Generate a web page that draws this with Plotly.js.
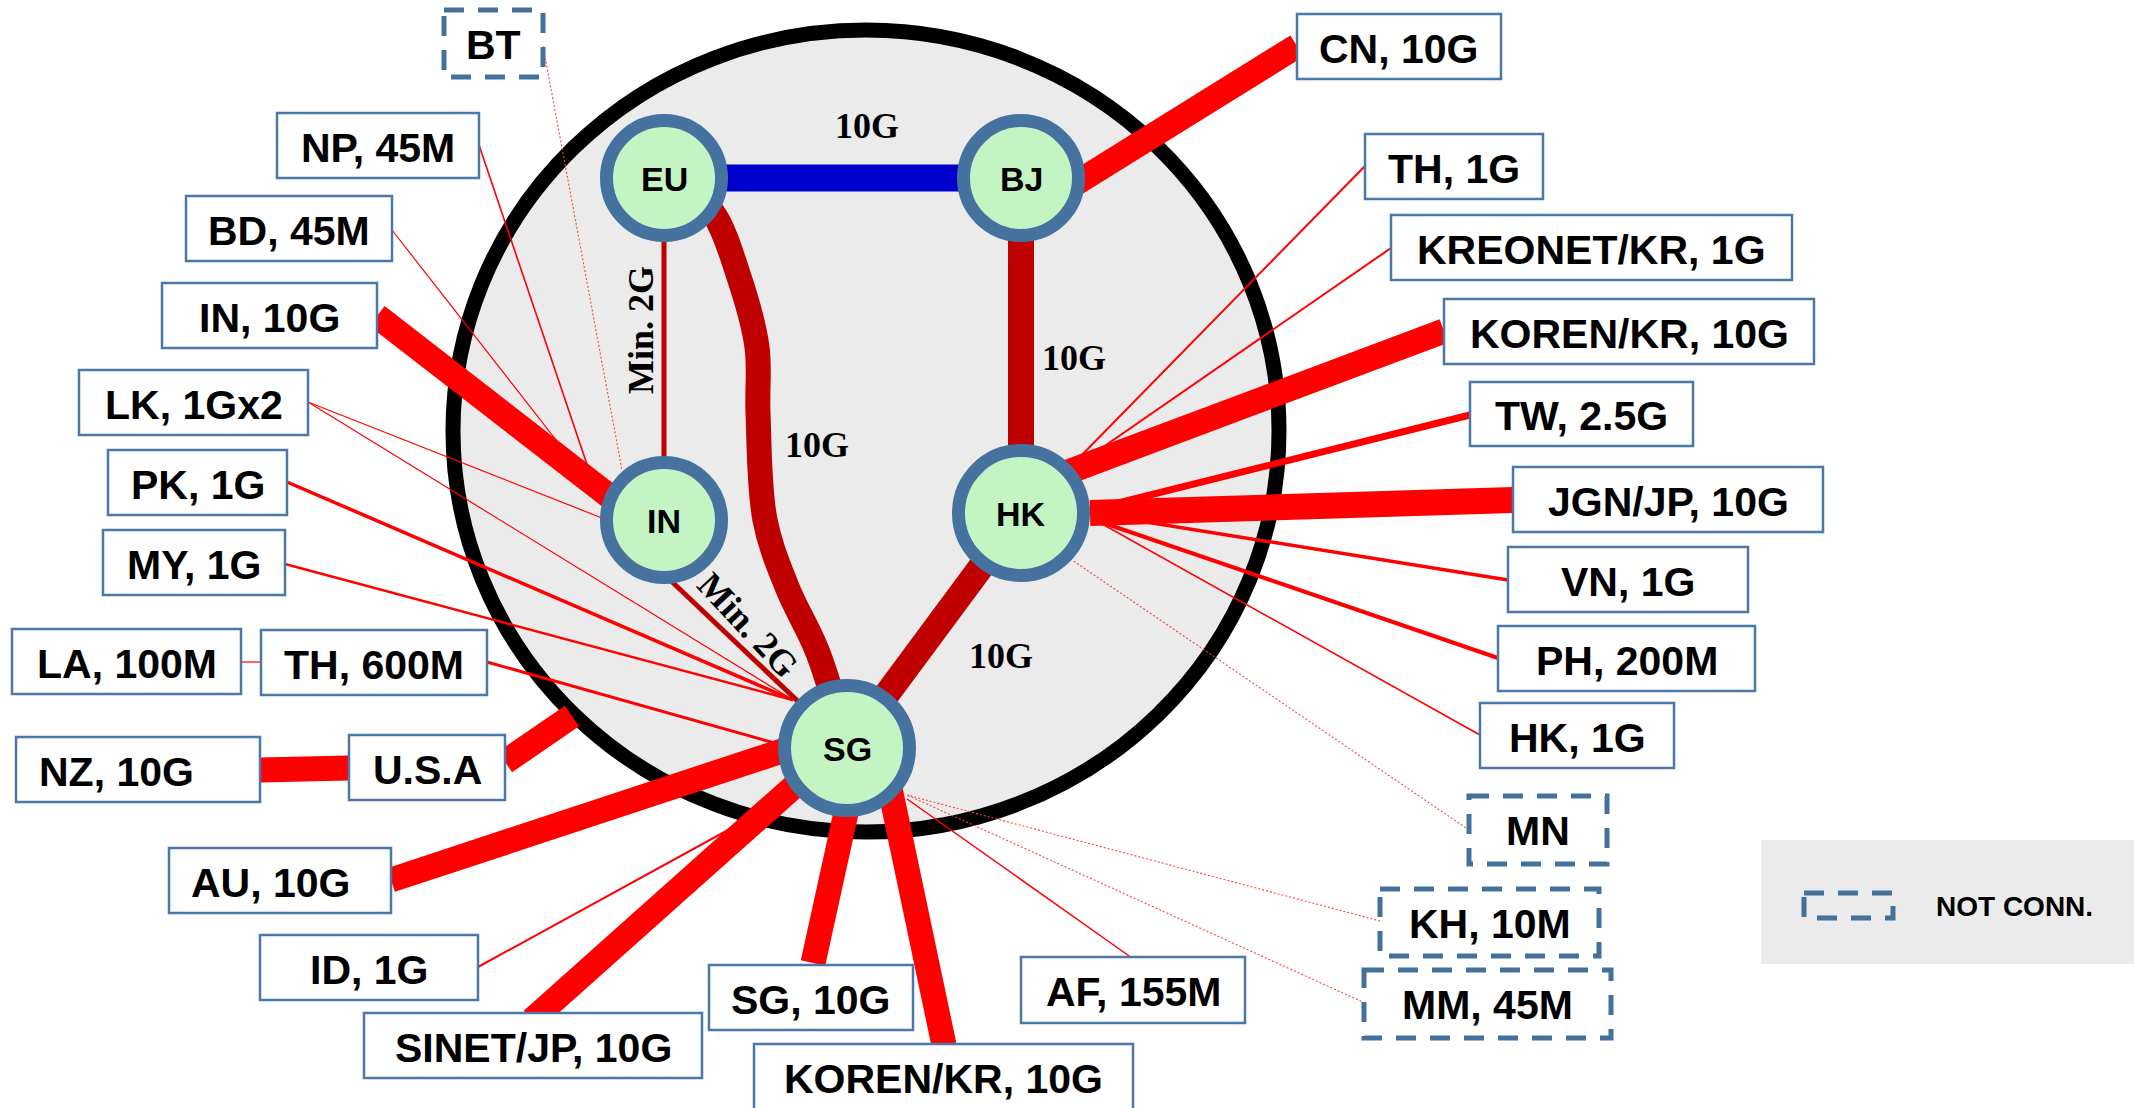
<!DOCTYPE html>
<html>
<head>
<meta charset="utf-8">
<script src="https://cdn.plot.ly/plotly-3.0.1.min.js"></script>
<style>html,body{margin:0;padding:0;background:#fff;}#chart{width:2134px;height:1108px;}</style>
</head>
<body>
<div id="chart"></div>
<script>
// ---------- DATA ----------
// Core exchange nodes
const nodeNames = ['EU', 'BJ', 'IN', 'HK', 'SG'];
const nodeX = [664, 1021, 664, 1021, 847];
const nodeY = [178, 178, 520, 513, 748];
const nodeR = [64, 64, 64, 69, 69];

// Core (node to node) links
const coreFrom = ['EU', 'BJ', 'EU', 'HK', 'IN'];
const coreTo = ['BJ', 'HK', 'IN', 'SG', 'SG'];
const coreCap = ['10G', '10G', 'Min. 2G', '10G', 'Min. 2G'];
// EU - SG 10G link follows a curved route
const curveX = [690, 713, 740, 757, 758, 765, 787, 818, 847];
const curveY = [195, 213, 280, 347, 413, 520, 587, 653, 748];
const curveCap = '10G';

// Peer boxes
const boxLabels = ['BT', 'NP, 45M', 'BD, 45M', 'IN, 10G', 'LK, 1Gx2', 'PK, 1G', 'MY, 1G', 'LA, 100M', 'TH, 600M',
  'NZ, 10G', 'U.S.A', 'AU, 10G', 'ID, 1G', 'SINET/JP, 10G', 'SG, 10G', 'KOREN/KR, 10G', 'AF, 155M',
  'CN, 10G', 'TH, 1G', 'KREONET/KR, 1G', 'KOREN/KR, 10G', 'TW, 2.5G', 'JGN/JP, 10G', 'VN, 1G', 'PH, 200M',
  'HK, 1G', 'MN', 'KH, 10M', 'MM, 45M'];
const boxConnected = [false, true, true, true, true, true, true, true, true,
  true, true, true, true, true, true, true, true,
  true, true, true, true, true, true, true, true,
  true, false, false, false];
const boxLeft = [444, 277, 186, 162, 79, 108, 103, 12, 261, 16, 349, 169, 260, 364, 709, 754, 1021,
  1297, 1365, 1391, 1444, 1470, 1513, 1508, 1498, 1480, 1469, 1380, 1364];
const boxTop = [10, 113, 196, 283, 370, 450, 530, 629, 630, 737, 735, 848, 935, 1013, 965, 1044, 957,
  14, 134, 215, 299, 382, 467, 547, 626, 703, 796, 889, 970];
const boxRight = [543, 479, 392, 377, 308, 287, 285, 241, 487, 260, 505, 391, 478, 702, 913, 1133, 1245,
  1501, 1543, 1792, 1814, 1693, 1823, 1748, 1755, 1674, 1607, 1599, 1611];
const boxBottom = [77, 178, 261, 348, 435, 515, 595, 694, 695, 802, 800, 913, 1000, 1078, 1030, 1118, 1023,
  79, 199, 280, 364, 446, 532, 612, 691, 768, 864, 956, 1038];

// Peer links (box edge -> node)
const linkCap = ['none', '45M', '45M', '10G', '1G', '1G', '1G', '1G', '100M', '600M', '10G', '10G', '10G', '1G', '10G',
  '10G', '10G', '155M', 'none', 'none', '10G', '1G', '1G', '10G', '2.5G', '10G', '1G', '200M', '1G', 'none'];
const linkX0 = [543, 479, 392, 377, 308, 308, 287, 285, 241, 487, 260, 505, 391, 478, 532,
  813, 944, 1132, 1380, 1365, 1297, 1365, 1391, 1444, 1470, 1513, 1508, 1498, 1480, 1469];
const linkY0 = [46, 145, 230, 316, 402, 402, 482, 564, 662, 662, 770, 762, 880, 967, 1020,
  963, 1045, 958, 921, 1003, 46, 166, 248, 331, 415, 500, 580, 658, 735, 830];
const linkX1 = [622, 598, 603, 640, 607, 793, 793, 793, 261, 778, 349, 572, 800, 790, 800,
  851, 884, 907, 907, 907, 1070, 1075, 1080, 1060, 1090, 1090, 1090, 1095, 1095, 1072];
const linkY1 = [470, 497, 500, 520, 520, 700, 700, 700, 662, 744, 768, 716, 745, 796, 781,
  790, 760, 799, 795, 795, 187, 462, 463, 475, 510, 513, 513, 520, 520, 560];

const legendText = 'NOT CONN.';

// ---------- STYLES ----------
const linkWidthStyle = [1.1, 1.6, 1.2, 25, 1.2, 1.2, 3.5, 2.5, 1.2, 3, 25, 25, 25, 2, 25,
  25, 25, 1.5, 1.1, 1.1, 25, 2, 2, 25, 7, 26, 3.5, 4, 1.5, 1.1];
const RED = '#ff0000', DARKRED = '#c00000', BLUE = '#0000cc';
const BOXLINE = '#4a78aa', DASHLINE = '#44719c';
const NODEFILL = '#c4f4c4', NODELINE = '#45729e';
const SANS = 'Liberation Sans, Arial, sans-serif';
const SERIF = 'Liberation Serif, Times New Roman, serif';
const labelShift = {'NZ, 10G': -22, 'AU, 10G': -9};
const coreLabelPos = [[867, 126, 0], [1074, 358, 0], [641, 330, -90], [1001, 656, 0], [748, 625, 47]];
const curveLabelPos = [817, 445];

// ---------- BUILD ----------
const traces = [];
const shapes = [];
const annotations = [];
const idx = n => nodeNames.indexOf(n);

// big ring
shapes.push({type: 'circle', xref: 'x', yref: 'y', x0: 453, x1: 1279, y0: 30, y1: 832,
  fillcolor: '#ebebeb', line: {color: '#000', width: 15}, layer: 'below'});

// peer links
for (let i = 0; i < linkCap.length; i++) {
  const notConn = linkCap[i] === 'none';
  traces.push({type: 'scatter', mode: 'lines', x: [linkX0[i], linkX1[i]], y: [linkY0[i], linkY1[i]],
    hoverinfo: 'skip',
    line: {color: notConn ? '#ff4040' : RED, width: linkWidthStyle[i], dash: notConn ? '2px,2px' : 'solid'}});
}
// core links
for (let i = 0; i < coreFrom.length; i++) {
  const a = idx(coreFrom[i]), b = idx(coreTo[i]);
  let xa = nodeX[a], ya = nodeY[a], xb = nodeX[b], yb = nodeY[b];
  if (coreFrom[i] === 'IN' && coreTo[i] === 'SG') { xa = 668; ya = 578; xb = 805; yb = 708; }
  const isMin = coreCap[i].indexOf('Min') === 0;
  traces.push({type: 'scatter', mode: 'lines', x: [xa, xb], y: [ya, yb], hoverinfo: 'skip',
    line: {color: (coreFrom[i] === 'EU' && coreTo[i] === 'BJ') ? BLUE : DARKRED, width: isMin ? 5 : (coreFrom[i] === 'EU' ? 27 : 26)}});
  annotations.push({x: coreLabelPos[i][0], y: coreLabelPos[i][1], xref: 'x', yref: 'y', showarrow: false,
    text: '<b>' + coreCap[i] + '</b>', textangle: coreLabelPos[i][2],
    font: {family: SERIF, size: 36, color: '#000'}});
}
traces.push({type: 'scatter', mode: 'lines', x: curveX, y: curveY, hoverinfo: 'skip',
  line: {color: DARKRED, width: 25, shape: 'spline', smoothing: 1}});
annotations.push({x: curveLabelPos[0], y: curveLabelPos[1], xref: 'x', yref: 'y', showarrow: false,
  text: '<b>' + curveCap + '</b>', font: {family: SERIF, size: 36, color: '#000'}});

// nodes
for (let i = 0; i < nodeNames.length; i++) {
  const r = nodeR[i] - 6.5;
  shapes.push({type: 'circle', xref: 'x', yref: 'y', x0: nodeX[i] - r, x1: nodeX[i] + r,
    y0: nodeY[i] - r, y1: nodeY[i] + r, fillcolor: NODEFILL, line: {color: NODELINE, width: 13}, layer: 'above'});
  annotations.push({x: nodeX[i], y: nodeY[i] + 1, xref: 'x', yref: 'y', showarrow: false,
    text: '<b>' + nodeNames[i] + '</b>', font: {family: SANS, size: 34, color: '#000'}});
}

// boxes
for (let i = 0; i < boxLabels.length; i++) {
  const conn = boxConnected[i];
  shapes.push({type: 'rect', xref: 'x', yref: 'y', x0: boxLeft[i], x1: boxRight[i], y0: boxTop[i], y1: boxBottom[i],
    fillcolor: '#ffffff', layer: 'above',
    line: conn ? {color: BOXLINE, width: 2.5} : {color: DASHLINE, width: 5, dash: '20px,14px'}});
  const by = (boxTop[i] + Math.min(boxBottom[i], boxTop[i] + 66)) / 2;
  annotations.push({x: (boxLeft[i] + boxRight[i]) / 2, y: by + 2, xref: 'x', yref: 'y', showarrow: false,
    xshift: labelShift[boxLabels[i]] || 0,
    text: '<b>' + boxLabels[i] + '</b>', font: {family: SANS, size: 41, color: '#000'}});
}

// legend
shapes.push({type: 'rect', xref: 'x', yref: 'y', x0: 1761, x1: 2140, y0: 840, y1: 964,
  fillcolor: '#ebebeb', line: {width: 0}, layer: 'above'});
shapes.push({type: 'rect', xref: 'x', yref: 'y', x0: 1804, x1: 1893, y0: 893, y1: 918,
  fillcolor: 'rgba(0,0,0,0)', line: {color: DASHLINE, width: 5, dash: '20px,14px'}, layer: 'above'});
annotations.push({x: 1934, y: 906, xref: 'x', yref: 'y', xanchor: 'left', showarrow: false,
  text: '<b>' + legendText + '</b>', font: {family: SANS, size: 28, color: '#000'}});

const layout = {
  width: 2134, height: 1108,
  margin: {l: 0, r: 0, t: 0, b: 0, pad: 0},
  paper_bgcolor: '#ffffff', plot_bgcolor: '#ffffff',
  showlegend: false,
  xaxis: {range: [0, 2134], visible: false, fixedrange: true},
  yaxis: {range: [1108, 0], visible: false, fixedrange: true},
  shapes: shapes,
  annotations: annotations
};
Plotly.newPlot('chart', traces, layout, {staticPlot: true, displayModeBar: false});
</script>
</body>
</html>
